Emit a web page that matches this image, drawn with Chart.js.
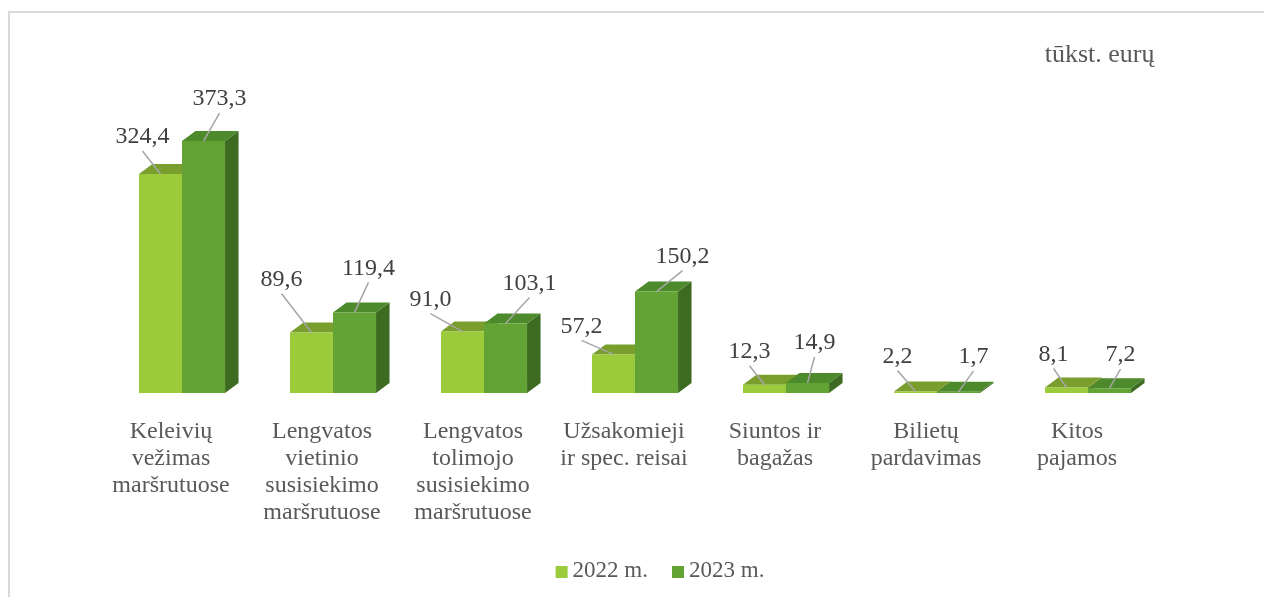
<!DOCTYPE html>
<html>
<head>
<meta charset="utf-8">
<script src="https://cdn.jsdelivr.net/npm/chart.js@4"></script>
<style>
  html, body { margin: 0; padding: 0; background: #fff; overflow: hidden; }
  #frame { position: absolute; left: 8px; top: 11px; width: 1300px; height: 700px;
           border-top: 2px solid #d9d9d9; border-left: 2px solid #d9d9d9; }
  #wrap { position: absolute; left: 0; top: 0; width: 1264px; height: 597px; }
</style>
</head>
<body>
<div id="frame"></div>
<div id="wrap"><canvas id="myChart"></canvas></div>
<script>
const categories = [
    ['Keleivių', 'vežimas', 'maršrutuose'],
    ['Lengvatos', 'vietinio', 'susisiekimo', 'maršrutuose'],
    ['Lengvatos', 'tolimojo', 'susisiekimo', 'maršrutuose'],
    ['Užsakomieji', 'ir spec. reisai'],
    ['Siuntos ir', 'bagažas'],
    ['Bilietų', 'pardavimas'],
    ['Kitos', 'pajamos']
];
const values2022 = [324.4, 89.6, 91.0, 57.2, 12.3, 2.2, 8.1];
const values2023 = [373.3, 119.4, 103.1, 150.2, 14.9, 1.7, 7.2];
const seriesNames = ['2022 m.', '2023 m.'];
const unitLabel = 'tūkst. eurų';

// where each value label sits, relative to the top of its bar (Excel put them by hand)
const labelShift2022 = [[-18, -37], [-30, -53], [-32, -32], [-32, -28], [-15, -33], [-18, -35], [-13, -33]];
const labelShift2023 = [[16, -42], [14, -44], [24, -40], [26, -35], [7, -40], [15, -35], [11, -33]];

const FONT = "'Liberation Serif', 'Times New Roman', serif";
const depth = { dx: 13.5, dy: 10 };
const faces = [
    { front: '#9BCB3B', top: '#799E2E', side: '#6C8E28' },
    { front: '#63A235', top: '#4C8A2B', side: '#3E6B22' }
];

// draws the top and side faces before the fronts so the fronts cover what is hidden
const bar3d = {
    id: 'bar3d',
    beforeDatasetsDraw(chart) {
        const ctx = chart.ctx;
        const metas = [chart.getDatasetMeta(0), chart.getDatasetMeta(1)];
        ctx.save();
        for (let i = 0; i < categories.length; i++) {
            metas.forEach((meta, d) => {
                const b = meta.data[i];
                const x0 = b.x - b.width / 2, x1 = b.x + b.width / 2;
                const top = b.y, base = b.base;
                ctx.fillStyle = faces[d].side;
                ctx.beginPath();
                ctx.moveTo(x1, top);
                ctx.lineTo(x1 + depth.dx, top - depth.dy);
                ctx.lineTo(x1 + depth.dx, base - depth.dy);
                ctx.lineTo(x1, base);
                ctx.closePath();
                ctx.fill();
                ctx.fillStyle = faces[d].top;
                ctx.beginPath();
                ctx.moveTo(x0, top);
                ctx.lineTo(x1, top);
                ctx.lineTo(x1 + depth.dx, top - depth.dy);
                ctx.lineTo(x0 + depth.dx, top - depth.dy);
                ctx.closePath();
                ctx.fill();
            });
        }
        ctx.restore();
    }
};

const valueLabels = {
    id: 'valueLabels',
    afterDatasetsDraw(chart) {
        const ctx = chart.ctx;
        const shifts = [labelShift2022, labelShift2023];
        ctx.save();
        ctx.font = '24px ' + FONT;
        ctx.textAlign = 'center';
        ctx.textBaseline = 'middle';
        chart.data.datasets.forEach((ds, d) => {
            chart.getDatasetMeta(d).data.forEach((b, i) => {
                const lx = b.x + shifts[d][i][0];
                const ly = b.y + shifts[d][i][1];
                ctx.strokeStyle = '#a6a6a6';
                ctx.lineWidth = 1.5;
                ctx.beginPath();
                ctx.moveTo(lx, ly + 14);
                ctx.lineTo(b.x, b.y);
                ctx.stroke();
                ctx.fillStyle = '#404040';
                ctx.fillText(ds.data[i].toFixed(1).replace('.', ','), lx, ly);
            });
        });
        ctx.restore();
    }
};

const extras = {
    id: 'extras',
    afterDraw(chart) {
        const ctx = chart.ctx;
        const area = chart.chartArea;
        ctx.save();
        ctx.font = '26px ' + FONT;
        ctx.fillStyle = '#595959';
        ctx.textAlign = 'right';
        ctx.textBaseline = 'alphabetic';
        ctx.fillText(unitLabel, area.right - 9, 62);

        // legend
        ctx.font = '23px ' + FONT;
        ctx.textAlign = 'left';
        ctx.textBaseline = 'middle';
        const box = 12, gap = 5, spacing = 24;
        const widths = chart.data.datasets.map(ds => ctx.measureText(ds.label).width);
        const total = widths.reduce((a, w) => a + box + gap + w, 0) + spacing;
        let x = (area.left + area.right) / 2 + 25 - total / 2;
        const y = 571;
        chart.data.datasets.forEach((ds, d) => {
            ctx.fillStyle = ds.backgroundColor;
            ctx.fillRect(x, y - 5, box, box);
            ctx.fillStyle = '#595959';
            ctx.fillText(ds.label, x + box + gap, y);
            x += box + gap + widths[d] + spacing;
        });
        ctx.restore();
    }
};

const ctx = document.getElementById('myChart').getContext('2d');
const myChart = new Chart(ctx, {
    type: 'bar',
    data: {
        labels: categories,
        datasets: [{
            label: seriesNames[0],
            data: values2022,
            backgroundColor: faces[0].front,
            borderWidth: 0
        }, {
            label: seriesNames[1],
            data: values2023,
            backgroundColor: faces[1].front,
            borderWidth: 0
        }]
    },
    options: {
        responsive: true,
        maintainAspectRatio: false,
        animation: false,
        layout: { padding: { left: 106.5, right: 100.5, top: 123, bottom: 0 } },
        datasets: { bar: { categoryPercentage: 0.57, barPercentage: 1 } },
        plugins: { legend: { display: false }, tooltip: { enabled: false } },
        scales: {
            x: {
                grid: { display: false, drawTicks: false },
                border: { display: false },
                ticks: {
                    color: '#595959',
                    font: { family: FONT, size: 24, lineHeight: '27px' },
                    padding: 25,
                    labelOffset: -11,
                    maxRotation: 0,
                    autoSkip: false
                },
                afterFit(scale) { scale.height = 204; }
            },
            y: { display: false, min: 0, max: 400 }
        }
    },
    plugins: [bar3d, valueLabels, extras]
});
</script>
</body>
</html>
